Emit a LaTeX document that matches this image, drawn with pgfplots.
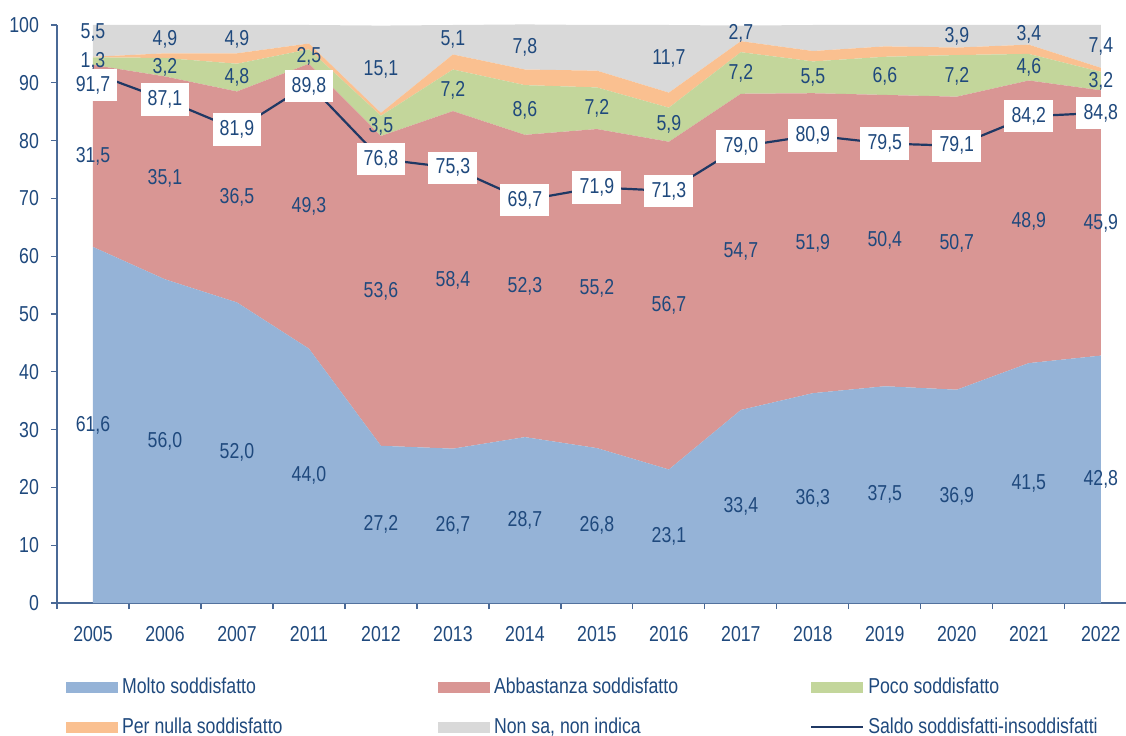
\documentclass[border=0pt]{standalone}
\usepackage{pgfplots}
\usepackage{pgfplotstable}
\pgfplotsset{compat=1.18}
\usepackage{fontspec}
\setmainfont{Liberation Sans}[FakeStretch=0.82]
\newcommand\ff{\fontsize{10.8}{13}\selectfont}
\definecolor{molto}{HTML}{95B3D7}
\definecolor{abb}{HTML}{D99694}
\definecolor{poco}{HTML}{C3D69B}
\definecolor{pn}{HTML}{FAC090}
\definecolor{nonsa}{HTML}{D9D9D9}
\definecolor{linecol}{HTML}{1F3864}
\definecolor{textcol}{HTML}{1F497D}
\definecolor{axiscol}{HTML}{4A6996}

% ssh / nsh: vertical offsets (pt) of the saldo and "non sa" labels
\pgfplotstableread{
x year molto abb poco pn nonsa saldo ssh nsh
0 2005 61.6 31.5 1.3 0.1 5.5 91.7 -6 4
1 2006 56.0 35.1 3.2 0.8 4.9 87.1 0 0
2 2007 52.0 36.5 4.8 1.8 4.9 81.9 0 0
3 2011 44.0 49.3 2.5 1.0 3.2 89.8 -1 0
4 2012 27.2 53.6 3.5 0.5 15.1 76.8 0 0
5 2013 26.7 58.4 7.2 2.6 5.1 75.3 0 0
6 2014 28.7 52.3 8.6 2.7 7.8 69.7 0 0
7 2015 26.8 55.2 7.2 2.9 7.9 71.9 0 0
8 2016 23.1 56.7 5.9 2.6 11.7 71.3 0 0
9 2017 33.4 54.7 7.2 1.9 2.7 79.0 0 0
10 2018 36.3 51.9 5.5 1.8 4.5 80.9 0 0
11 2019 37.5 50.4 6.6 1.8 3.7 79.5 0 0
12 2020 36.9 50.7 7.2 1.3 3.9 79.1 0 0
13 2021 41.5 48.9 4.6 1.6 3.4 84.2 0 0
14 2022 42.8 45.9 3.2 0.7 7.4 84.8 0 0
}\data

\pgfplotsset{
  common/.style={
    at={(0,0)}, anchor=south west,
    scale only axis, width=534.5pt, height=289pt,
    xmin=-0.5, xmax=14.35, ymin=0, ymax=100,
  },
  lab/.style={
    draw=none, forget plot, point meta=explicit,
    nodes near coords={\pgfmathprintnumber[fixed,fixed zerofill,precision=1,use comma,assume math mode=true]{\pgfplotspointmeta}},
    nodes near coords align=center,
    every node near coord/.append style={font=\ff, text=textcol, inner sep=0pt},
  },
  boxleg/.style={legend image code/.code={\fill[##1] (0pt,-2.8pt) rectangle (26pt,2.8pt);}},
  lineleg/.style={legend image code/.code={\draw[##1] (0pt,0pt) -- (26pt,0pt);}},
}

\begin{document}
\begin{tikzpicture}
\begin{axis}[common,
  stack plots=y,
  axis x line*=bottom, axis y line*=left,
  axis line style={axiscol, line width=0.6pt},
  tick align=outside, major tick length=3pt, minor tick length=3pt,
  tick style={axiscol, line width=0.6pt},
  ytick={0,10,...,100},
  xtick={0,...,14},
  xticklabels={2005,2006,2007,2011,2012,2013,2014,2015,2016,2017,2018,2019,2020,2021,2022},
  minor xtick={-0.5,0.5,...,13.5},
  major x tick style={draw=none},
  ticklabel style={font=\ff, text=textcol},
  yticklabel style={xshift=-2.5pt},
  xticklabel style={yshift=-5.3pt},
  /pgf/number format/assume math mode=true,
  legend columns=3,
  legend cell align=left,
  legend style={at={(0.0085,-0.1225)}, anchor=north west, draw=none, fill=none,
    inner sep=0pt, outer sep=0pt, row sep=6.7pt, font=\ff, text=textcol,
    nodes={inner sep=2pt}},
]
\addplot[fill=molto, draw=none, boxleg] table[x=x,y=molto] {\data} \closedcycle;
\addlegendentry{\makebox[156pt][l]{Molto soddisfatto}}
\addplot[fill=abb, draw=none, boxleg] table[x=x,y=abb] {\data} \closedcycle;
\addlegendentry{\makebox[156pt][l]{Abbastanza soddisfatto}}
\addplot[fill=poco, draw=none, boxleg] table[x=x,y=poco] {\data} \closedcycle;
\addlegendentry{\makebox[156pt][l]{Poco soddisfatto}}
\addplot[fill=pn, draw=none, boxleg] table[x=x,y=pn] {\data} \closedcycle;
\addlegendentry{\makebox[156pt][l]{Per nulla soddisfatto}}
\addplot[fill=nonsa, draw=none, boxleg] table[x=x,y=nonsa] {\data} \closedcycle;
\addlegendentry{\makebox[156pt][l]{Non sa, non indica}}
\addlegendimage{linecol, line width=1.1pt, lineleg}
\addlegendentry{\makebox[156pt][l]{Saldo soddisfatti-insoddisfatti}}
\end{axis}

\begin{axis}[common, hide axis, clip=false]
\addplot[lab] table[x=x, y expr=\thisrow{molto}/2, meta=molto] {\data};
\addplot[lab] table[x=x, y expr=\thisrow{molto}+\thisrow{abb}/2, meta=abb] {\data};
\addplot[lab] table[x=x, y expr=\thisrow{molto}+\thisrow{abb}+\thisrow{poco}/2, meta=poco] {\data};
\addplot[lab, skip coords between index={3}{4}, skip coords between index={7}{8}, skip coords between index={10}{12},
  visualization depends on={\thisrow{nsh} \as \nsh},
  every node near coord/.append style={yshift=\nsh pt}]
  table[x=x, y expr=\thisrow{molto}+\thisrow{abb}+\thisrow{poco}+\thisrow{pn}+\thisrow{nonsa}/2, meta=nonsa] {\data};
\addplot[linecol, line width=1.1pt, no marks,
  visualization depends on={\thisrow{ssh} \as \ssh},
  nodes near coords={\pgfmathprintnumber[fixed,fixed zerofill,precision=1,use comma,assume math mode=true]{\pgfplotspointmeta}},
  nodes near coords align=center,
  every node near coord/.append style={font=\ff, text=textcol, fill=white, inner sep=3.6pt, yshift=\ssh pt}]
  table[x=x, y=saldo] {\data};
\end{axis}
\pgfresetboundingbox
\path[use as bounding box] (-28.5pt,-66pt) rectangle (534.5pt,301.5pt);
\end{tikzpicture}
\end{document}
